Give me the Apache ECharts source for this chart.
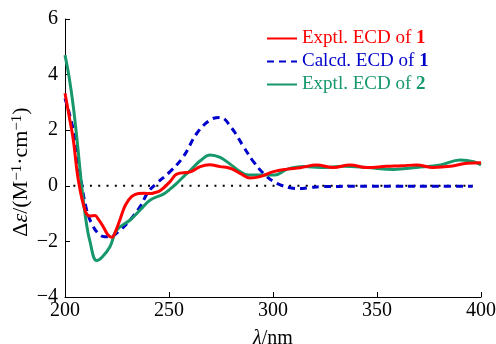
<!DOCTYPE html>
<html><head><meta charset="utf-8">
<script src="https://cdn.jsdelivr.net/npm/echarts@6/dist/echarts.min.js"></script>
<style>html,body{margin:0;padding:0;background:#fff}#c{width:496px;height:344px}</style>
</head><body><div id="c"></div>
<script>
const seriesNames = ['Exptl. ECD of 1', 'Calcd. ECD of 1', 'Exptl. ECD of 2'];
const seriesColors = ['#ff0000', '#0000cc', '#17986a'];

const exp1X = [200, 202, 204, 206.4, 209.6, 212, 214.4, 216, 218.4, 220.5, 222.5, 224.5, 226.5, 229, 232, 235.3, 238, 241, 243, 245.7, 250.5, 253.7, 260.2, 265, 269.5, 274.6, 279.4, 284.2, 289, 293.8, 300.2, 306.7, 313.1, 321, 329, 337, 345, 354.7, 362, 369, 377, 385.3, 393.3, 400];
const exp1Y = [3.33, 2.5, 1.65, 0.21, -0.87, -1.09, -1.07, -1.2, -1.47, -1.75, -1.85, -1.6, -1.2, -0.7, -0.39, -0.28, -0.27, -0.28, -0.25, -0.18, 0.15, 0.42, 0.5, 0.69, 0.76, 0.69, 0.63, 0.45, 0.28, 0.33, 0.51, 0.6, 0.65, 0.75, 0.66, 0.75, 0.66, 0.7, 0.72, 0.75, 0.66, 0.7, 0.81, 0.83];

const calc1X = [200, 204, 207.2, 210.4, 213.6, 216.8, 219, 221.6, 226.5, 231.3, 236.1, 240.1, 244.1, 250.5, 256.9, 263.4, 269.8, 274.6, 280.2, 285.8, 290.6, 296.2, 301.9, 308.3, 313, 318, 323, 340, 360, 380, 396];
const calc1Y = [3.15, 2.0, 0.45, -0.87, -1.47, -1.77, -1.83, -1.83, -1.59, -1.23, -0.75, -0.21, 0.09, 0.51, 1.05, 1.89, 2.37, 2.46, 2.07, 1.41, 0.87, 0.39, 0.09, -0.07, -0.1, -0.06, -0.03, -0.02, -0.02, -0.02, -0.02];

const exp2X = [200, 202, 204, 206, 208, 210, 212, 215.2, 218, 221.6, 224.9, 231.3, 236.1, 241, 247.3, 250.5, 253.7, 257, 260.2, 265, 269.8, 274.6, 279.4, 284.2, 288.2, 295.4, 301, 306.7, 314.7, 322.7, 334, 345, 358, 369, 380.5, 390, 396.5, 400];
const exp2Y = [4.7, 3.9, 2.85, 1.5, 0.0, -1.2, -2.0, -2.69, -2.55, -2.19, -1.59, -1.23, -0.87, -0.51, -0.3, -0.12, 0.09, 0.33, 0.55, 0.9, 1.11, 1.02, 0.78, 0.51, 0.39, 0.39, 0.39, 0.59, 0.69, 0.66, 0.7, 0.66, 0.59, 0.66, 0.75, 0.93, 0.87, 0.75];

const zeroX = [204, 396];
const zeroY = [0, 0];

const xTicks = [200, 250, 300, 350, 400];
const yTicks = [-4, -2, 0, 2, 4, 6];

const zip = (xs, ys) => xs.map((x, i) => [x, ys[i]]);
const FONT = '"Liberation Serif", "Times New Roman", serif';

const chart = echarts.init(document.getElementById('c'));
chart.setOption({
  animation: false,
  backgroundColor: '#fff',
  grid: { left: 65, right: 15, top: 19, bottom: 47, containLabel: false, outerBoundsMode: 'none' },
  xAxis: {
    type: 'value', min: xTicks[0], max: xTicks[xTicks.length - 1], interval: 50,
    axisLine: { onZero: false, lineStyle: { color: '#000', width: 1 } },
    axisTick: { inside: true, length: 5, lineStyle: { color: '#000' } },
    axisLabel: { color: '#000', fontFamily: FONT, fontSize: 20, margin: 4 },
    splitLine: { show: false },
    name: '{i|λ}/nm', nameLocation: 'middle', nameGap: 32,
    nameTextStyle: { color: '#000', fontFamily: FONT, fontSize: 20,
      rich: { i: { fontStyle: 'italic', fontFamily: FONT, fontSize: 20, color: '#000' } } }
  },
  yAxis: {
    type: 'value', min: yTicks[0], max: yTicks[yTicks.length - 1], interval: 2,
    axisLine: { show: true, onZero: false, lineStyle: { color: '#000', width: 1 } },
    axisTick: { show: true, inside: true, length: 5, lineStyle: { color: '#000' } },
    axisLabel: { color: '#000', fontFamily: FONT, fontSize: 20, margin: 7,
      formatter: v => String(v).replace('-', '\u2212') },
    splitLine: { show: false }
  },
  legend: {
    orient: 'vertical', left: 261, top: 24, itemWidth: 30, itemHeight: 14, itemGap: 4,
    itemStyle: { opacity: 0 },
    data: seriesNames.map((n, i) => ({
      name: n,
      textStyle: { color: seriesColors[i], fontFamily: FONT, fontSize: 19,
        rich: { b: { fontWeight: 'bold', color: seriesColors[i], fontFamily: FONT, fontSize: 19 } } }
    })),
    formatter: n => n.slice(0, -1) + '{b|' + n.slice(-1) + '}'
  },
  graphic: [{
    type: 'text', x: 21, y: 172, rotation: Math.PI / 2,
    style: {
      text: 'Δ{i|ε}/(M{s|−1}·cm{s|−1})', fill: '#000', font: '22px ' + FONT,
      align: 'center', verticalAlign: 'middle',
      rich: {
        i: { fontStyle: 'italic', fontSize: 22, fontFamily: FONT },
        s: { fontSize: 15, fontFamily: FONT, verticalAlign: 'top' }
      }
    }
  }],
  series: [
    { name: 'zero', type: 'line', data: zip(zeroX, zeroY), symbol: 'none', silent: true, z: 1,
      lineStyle: { color: '#000', width: 2, type: [2, 6.3] } },
    { name: seriesNames[1], type: 'line', data: zip(calc1X, calc1Y), symbol: 'none', smooth: 0.4, z: 2,
      color: seriesColors[1], lineStyle: { color: seriesColors[1], width: 3, type: [7, 5] } },
    { name: seriesNames[2], type: 'line', data: zip(exp2X, exp2Y), symbol: 'none', smooth: 0.4, z: 3,
      color: seriesColors[2], lineStyle: { color: seriesColors[2], width: 3 } },
    { name: seriesNames[0], type: 'line', data: zip(exp1X, exp1Y), symbol: 'none', smooth: 0.4, z: 4,
      color: seriesColors[0], lineStyle: { color: seriesColors[0], width: 3 } }
  ]
});
</script></body></html>
